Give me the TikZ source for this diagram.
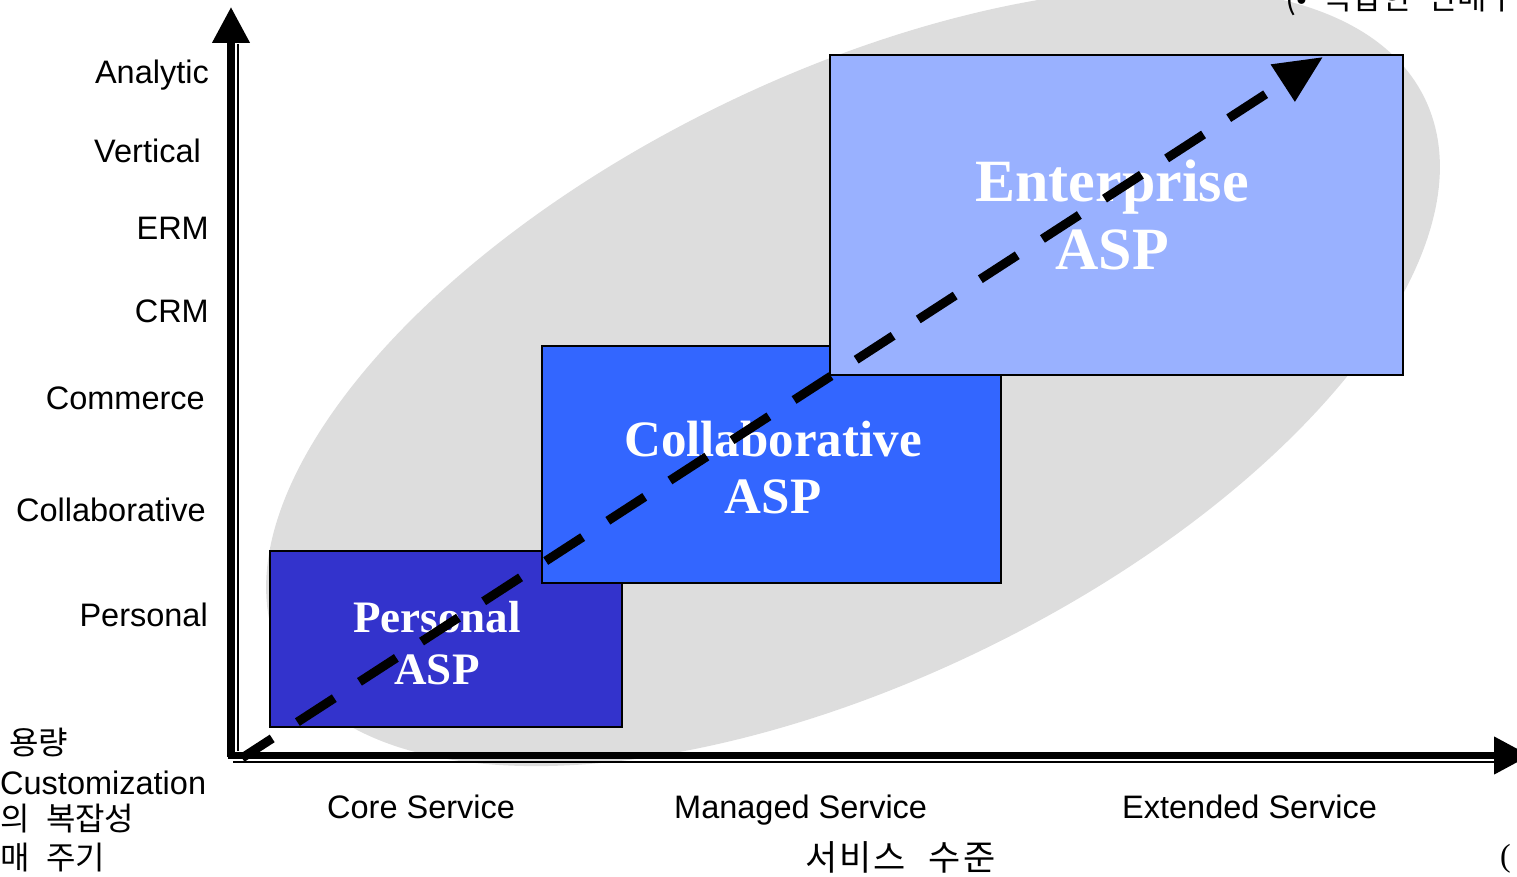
\documentclass[tikz,border=0pt]{standalone}
\usepackage{fontspec}
\setmainfont{Liberation Sans}
\newfontfamily\serifb{Liberation Serif}
\newfontfamily\kr[WordSpace=2.3]{Noto Sans CJK KR}
\newfontfamily\krwide[WordSpace=2.3,LetterSpace=6]{Noto Sans CJK KR}
\usetikzlibrary{arrows.meta}
\definecolor{ellgray}{HTML}{DDDDDD}
\definecolor{pblue}{HTML}{3333CC}
\definecolor{cblue}{HTML}{3366FF}
\definecolor{eblue}{HTML}{99B1FF}
\tikzset{
  box/.style={draw=black, line width=2.5pt, inner sep=0pt, rectangle},
  boxtxt/.style={text=white, align=center, inner sep=0pt, font=\serifb\bfseries},
  lab/.style={inner sep=0pt, font=\fontsize{32.5}{36}\selectfont},
  krlab/.style={inner sep=0pt, font=\kr\fontsize{32}{36}\selectfont},
  axis/.style={line width=7.5pt, -{Triangle[length=36pt,width=36pt]}},
  shadowline/.style={line width=2pt},
  dasharrow/.style={line width=9pt, dash pattern=on 44pt off 30pt, dash phase=8pt,
    -{Triangle[length=48pt,width=42pt]}}
}
\begin{document}
\begin{tikzpicture}[x=1pt,y=1pt]
\useasboundingbox (0,0) rectangle (1517,-877);
% background ellipse
\fill[ellgray, rotate around={26:(853,-377)}] (853,-377) ellipse [x radius=636pt, y radius=302pt];
% boxes
\node[box, fill=pblue, minimum width=352pt, minimum height=176pt] (personal) at (446,-639) {};
\node[box, fill=cblue, minimum width=459pt, minimum height=237pt] (collab) at (771.5,-464.5) {};
\node[box, fill=eblue, minimum width=573pt, minimum height=320pt] (enterprise) at (1116.5,-215) {};
\node[boxtxt, font=\serifb\bfseries\fontsize{45}{52}\selectfont] (ptxt) at (437,-643) {Personal\\ASP};
\node[boxtxt, font=\serifb\bfseries\fontsize{51}{57}\selectfont] (ctxt) at (773,-467.5) {Collaborative\\ASP};
\node[boxtxt, font=\serifb\bfseries\fontsize{60}{68}\selectfont] (etxt) at (1112,-215) {Enterprise\\ASP};
% axes
\coordinate (vbot) at (231,-757);
\coordinate (vtop) at (231,-7);
\coordinate (hleft) at (227.5,-755.5);
\coordinate (hright) at (1530,-755.5);
\coordinate (vsb) at (238.3,-751);
\coordinate (vst) at (238.3,-44);
\coordinate (hsl) at (233,-762);
\coordinate (hsr) at (1495,-762);
\draw[shadowline] (vsb) -- (vst);
\draw[shadowline] (hsl) -- (hsr);
\draw[axis] (vbot) -- (vtop);
\draw[axis] (hleft) -- (hright);
% dashed growth arrow
\coordinate (dstart) at (242,-758);
\coordinate (dend) at (1323,-57);
\draw[dasharrow] (dstart) -- (dend);
% y labels
\node[lab, anchor=base east] (y1) at (209,-83.5) {Analytic};
\node[lab, anchor=base east] (y2) at (201,-162.5) {Vertical};
\node[lab, anchor=base east] (y3) at (209,-239.5) {ERM};
\node[lab, anchor=base east] (y4) at (209,-322.5) {CRM};
\node[lab, anchor=base east] (y5) at (205,-409.5) {Commerce};
\node[lab, anchor=base east] (y6) at (206,-521.5) {Collaborative};
\node[lab, anchor=base east] (y7) at (208,-626.5) {Personal};
% x labels
\node[lab, anchor=base west] (x1) at (327,-818.5) {Core Service};
\node[lab, anchor=base west] (x2) at (674,-818.5) {Managed Service};
\node[lab, anchor=base west] (x3) at (1122,-818.5) {Extended Service};
\node[krlab, font=\krwide\fontsize{35}{38}\selectfont, anchor=base west] (xt) at (805,-870) {서비스 수준};
% bottom-left texts
\node[krlab, anchor=base west] (bl1) at (9,-754) {용량};
\node[lab, anchor=base west] (bl2) at (0,-794.5) {Customization};
\node[krlab, anchor=base west] (bl3) at (0,-830) {의 복잡성};
\node[krlab, anchor=base west] (bl4) at (0,-869) {매 주기};
% cut texts at edges
\node[krlab, anchor=base west] (tr) at (1285,-9.5) {(• 복잡한 판매구조};
\node[inner sep=0pt, font=\serifb\fontsize{32}{36}\selectfont, anchor=base west] (br) at (1500,-866) {(};
\end{tikzpicture}
\end{document}
